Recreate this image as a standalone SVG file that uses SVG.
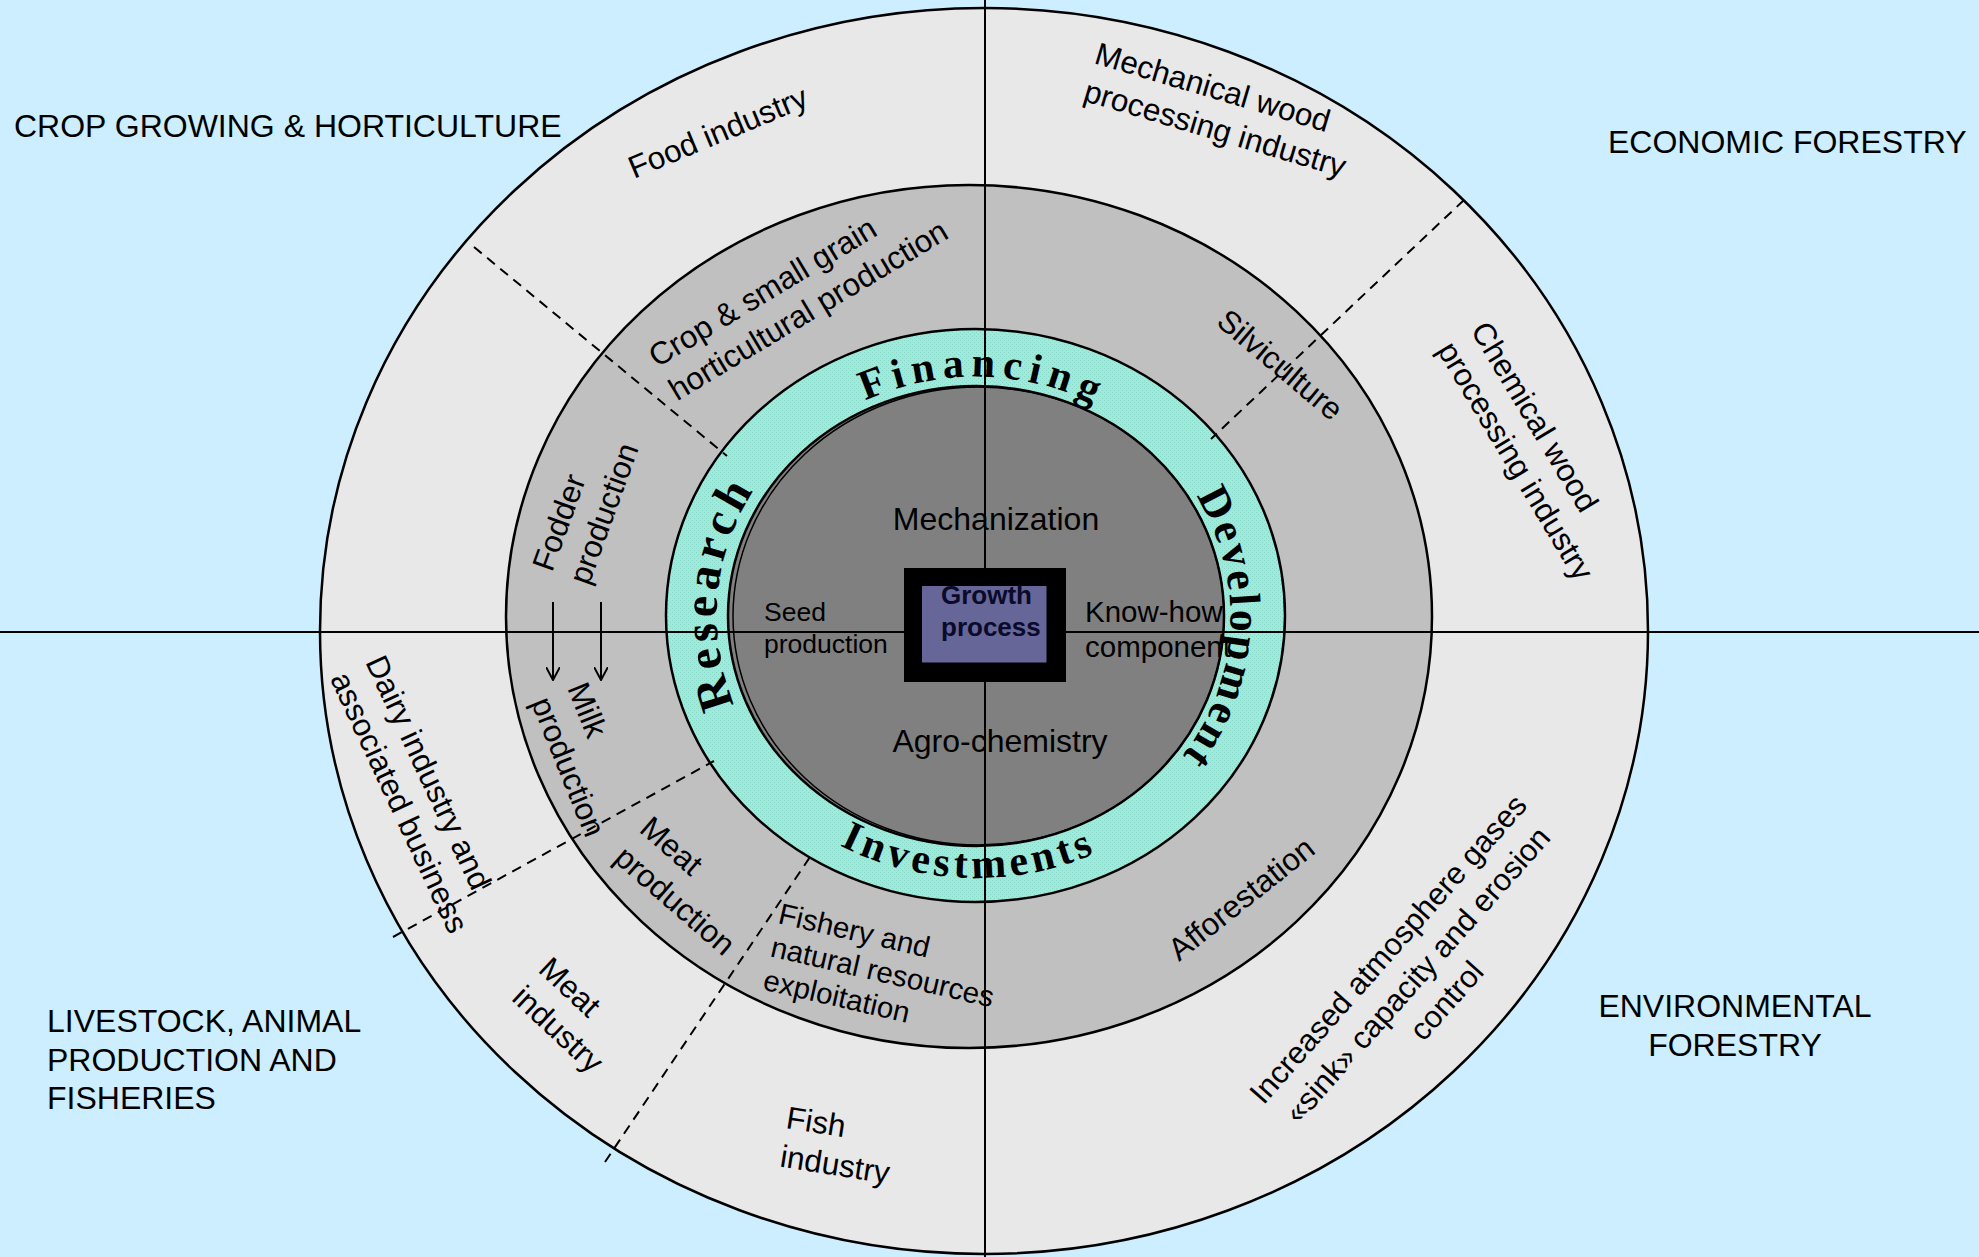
<svg xmlns="http://www.w3.org/2000/svg" width="1979" height="1257" viewBox="0 0 1979 1257">
<defs>
<style>
.t{font-family:"Liberation Sans",Arial,sans-serif;font-size:31.5px;fill:#000}
.q{font-size:32px}
.ring{font-family:"Liberation Serif","Times New Roman",serif;font-weight:bold;font-size:42px;fill:#000}
.ol{stroke:#000;stroke-width:2.5}
.dash{stroke:#000;stroke-width:2;stroke-dasharray:10 7;fill:none}
.ax{stroke:#000;stroke-width:2;fill:none}
.arrow{stroke:#000;stroke-width:2;fill:none;marker-end:url(#arr)}
</style>
<pattern id="tealTex" width="4" height="4" patternUnits="userSpaceOnUse">
<rect width="4" height="4" fill="#a0e9db"/>
<rect width="1" height="1" fill="#86d8c8"/>
<rect x="2" y="2" width="1" height="1" fill="#86d8c8"/>
</pattern>
<marker id="arr" viewBox="0 0 14 14" refX="13" refY="7" markerWidth="14" markerHeight="14" markerUnits="userSpaceOnUse" orient="auto">
<path d="M0,0 L13,7 L0,14" fill="none" stroke="#000" stroke-width="2"/>
</marker>
<path id="pFin" d="M723.7,588.2 A254,239 0 0 1 1229.6,602.2"/>
<path id="pRes" d="M930.8,856.3 A259,244 0 0 1 976.2,372"/>
<path id="pDev" d="M1011.3,379.3 A254,239 0 0 1 984.9,854.9"/>
<path id="pInv" d="M694.5,631.1 A282,262 0 0 0 1256.1,646.6"/>
</defs>

<rect width="1979" height="1257" fill="#cceeff"/>

<g id="rings">
<ellipse id="outer-ring" cx="984" cy="631" rx="664" ry="623" fill="#e8e8e8" class="ol"/>
<ellipse id="middle-ring" cx="969" cy="616.5" rx="463" ry="431.5" fill="#c0c0c0" class="ol"/>
<ellipse id="teal-ring" cx="975.5" cy="615.5" rx="309.5" ry="286.5" fill="url(#tealTex)" class="ol"/>
<ellipse id="inner-core" cx="976" cy="616" rx="248" ry="230" fill="#808080" class="ol"/>
<ellipse cx="978.5" cy="616" rx="245.5" ry="229" fill="none" stroke="#000" stroke-width="1.5"/>
</g>

<g id="dividers">
<line class="dash" x1="474" y1="247" x2="727" y2="456"/>
<line class="dash" x1="1464" y1="200" x2="1211" y2="439"/>
<line class="dash" x1="393" y1="937" x2="714" y2="761"/>
<line class="dash" x1="605" y1="1162" x2="810" y2="857"/>
<line class="ax" x1="0" y1="632" x2="1979" y2="632"/>
<line class="ax" x1="985" y1="0" x2="985" y2="1257"/>
</g>

<g id="connectors">
<line class="arrow" x1="553" y1="602" x2="553" y2="680"/>
<line class="arrow" x1="601" y1="602" x2="601" y2="680"/>
</g>

<g id="quadrant-labels">
<g id="crop-growing"><text class="t q" x="14" y="137">CROP GROWING &amp; HORTICULTURE</text></g>
<g id="economic-forestry"><text class="t q" x="1608" y="153">ECONOMIC FORESTRY</text></g>
<g id="livestock"><text class="t q"><tspan x="47" y="1032">LIVESTOCK, ANIMAL</tspan><tspan x="47" y="1071">PRODUCTION AND</tspan><tspan x="47" y="1109">FISHERIES</tspan></text></g>
<g id="environmental-forestry"><text class="t q" text-anchor="middle"><tspan x="1735" y="1017">ENVIRONMENTAL</tspan><tspan x="1735" y="1056">FORESTRY</tspan></text></g>
</g>

<g id="outer-labels">
<g id="food-industry"><text class="t" transform="translate(634,179) rotate(-22.7)">Food industry</text></g>
<g id="mechanical-wood"><text class="t" transform="translate(1093,63) rotate(16.5)"><tspan x="0" y="0">Mechanical wood</tspan><tspan x="0" y="39">processing industry</tspan></text></g>
<g id="chemical-wood"><text class="t" transform="translate(1470,330) rotate(59)"><tspan x="0" y="0">Chemical wood</tspan><tspan x="0" y="39">processing industry</tspan></text></g>
<g id="dairy-industry"><text class="t" transform="translate(365,662) rotate(65)"><tspan x="0" y="0">Dairy industry and</tspan><tspan x="0" y="39">associated business</tspan></text></g>
<g id="meat-industry"><text class="t" transform="translate(537,971) rotate(43)"><tspan x="0" y="0">Meat</tspan><tspan x="0" y="39">industry</tspan></text></g>
<g id="fish-industry"><text class="t" transform="translate(785,1128) rotate(9)"><tspan x="0" y="0">Fish</tspan><tspan x="0" y="39">industry</tspan></text></g>
<g id="increased-sink"><text class="t" style="font-size:31px" text-anchor="middle" transform="translate(1396,956) rotate(-48.5)"><tspan x="0" y="0">Increased atmosphere gases</tspan><tspan x="0" y="39">«sink» capacity and erosion</tspan><tspan x="0" y="78">control</tspan></text></g>
</g>

<g id="middle-labels">
<g id="crop-small-grain"><text class="t" transform="translate(657,368) rotate(-31)"><tspan x="0" y="0">Crop &amp; small grain</tspan><tspan x="0" y="39">horticultural production</tspan></text></g>
<g id="silviculture"><text class="t" transform="translate(1215,324) rotate(40)">Silviculture</text></g>
<g id="fodder-production"><text class="t" transform="translate(552,573) rotate(-70)"><tspan x="0" y="0">Fodder</tspan><tspan x="0" y="39">production</tspan></text></g>
<g id="milk-production"><text class="t" transform="translate(567,688) rotate(68)"><tspan x="0" y="0">Milk</tspan><tspan x="0" y="39">production</tspan></text></g>
<g id="meat-production"><text class="t" transform="translate(638,831) rotate(41)"><tspan x="0" y="0">Meat</tspan><tspan x="0" y="39">production</tspan></text></g>
<g id="fishery"><text class="t" style="font-size:29.5px" transform="translate(777,923) rotate(13)"><tspan x="0" y="0">Fishery and</tspan><tspan x="0" y="34">natural resources</tspan><tspan x="0" y="68">exploitation</tspan></text></g>
<g id="afforestation"><text class="t" transform="translate(1179,962) rotate(-38.5)">Afforestation</text></g>
</g>

<g id="ring-words">
<g id="financing"><text class="ring" letter-spacing="7"><textPath href="#pFin" startOffset="50%" text-anchor="middle">Financing</textPath></text></g>
<g id="research"><text class="ring" style="font-size:48px" letter-spacing="5"><textPath href="#pRes" startOffset="50%" text-anchor="middle">Research</textPath></text></g>
<g id="development"><text class="ring" style="font-size:44px" letter-spacing="3"><textPath href="#pDev" startOffset="50%" text-anchor="middle">Development</textPath></text></g>
<g id="investments"><text class="ring" letter-spacing="4.6"><textPath href="#pInv" startOffset="50%" text-anchor="middle">Investments</textPath></text></g>
</g>

<g id="core-labels">
<g id="mechanization"><text class="t" style="font-size:32px" x="996" y="530" text-anchor="middle">Mechanization</text></g>
<g id="agro-chemistry"><text class="t" style="font-size:32px" x="1000" y="752" text-anchor="middle">Agro-chemistry</text></g>
<g id="seed-production"><text class="t" style="font-size:26.5px"><tspan x="764" y="621">Seed</tspan><tspan x="764" y="652.5">production</tspan></text></g>
<g id="know-how"><text class="t" style="font-size:29.5px"><tspan x="1085" y="622">Know-how</tspan><tspan x="1085" y="656.5">component</tspan></text></g>
</g>

<g id="growth-process">
<rect x="904" y="568" width="162" height="114" fill="#000"/>
<rect x="922" y="586" width="124.5" height="76.5" fill="#666699"/>
<text style="font-family:'Liberation Sans',Arial,sans-serif;font-weight:bold;font-size:26px;fill:#0a0a2a"><tspan x="941" y="604">Growth</tspan><tspan x="941" y="636">process</tspan></text>
</g>
</svg>
